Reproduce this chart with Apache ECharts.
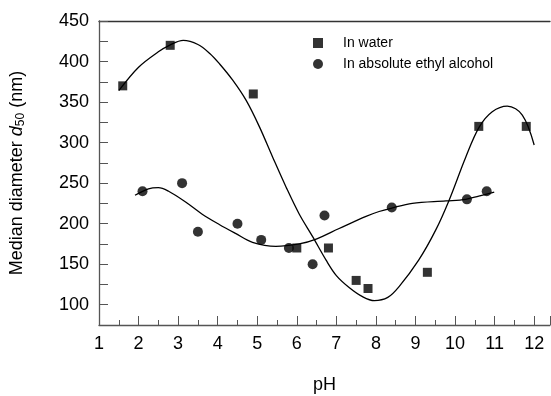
<!DOCTYPE html>
<html>
<head>
<meta charset="utf-8">
<script src="https://cdn.jsdelivr.net/npm/echarts@6/dist/echarts.min.js"></script>
<style>
  html, body { margin: 0; padding: 0; background: #fff; }
  #chart { width: 551px; height: 396px; }
</style>
</head>
<body>
<div id="chart"></div>
<script>
// measured points
const waterPH = [1.6, 2.8, 4.9, 6.0, 6.8, 7.5, 7.8, 9.3, 10.6, 11.8];
const waterD50 = [370, 420, 360, 170, 170, 130, 120, 140, 320, 320];
const ethanolPH = [2.1, 3.1, 3.5, 4.5, 5.1, 5.8, 6.4, 6.7, 8.4, 10.3, 10.8];
const ethanolD50 = [240, 250, 190, 200, 180, 170, 150, 210, 220, 230, 240];

// fitted curves
const waterFitPH = [1.5, 2.0, 2.5, 2.78, 3.13, 3.5, 3.8, 4.05, 4.38, 4.72, 5.05, 5.39, 5.73, 6.06, 6.4, 6.74, 7.0, 7.33, 7.66, 7.96, 8.3, 8.58, 9.08, 9.51, 9.85, 10.27, 10.61, 10.94, 11.32, 11.7, 12.0];
const waterFitD50 = [364, 393, 412, 420, 426, 421, 410, 397, 377, 352, 320, 282, 245, 212, 184, 155, 136, 121, 110, 105, 109, 122, 155, 192, 229, 282, 319, 338, 345, 334, 297];
const ethanolFitPH = [1.91, 2.25, 2.5, 2.76, 3.18, 3.6, 4.04, 4.45, 4.88, 5.47, 6.06, 6.49, 7.07, 7.75, 8.08, 8.38, 8.92, 9.77, 10.27, 10.6, 10.99];
const ethanolFitD50 = [235, 243, 244.5, 240, 227, 212, 199, 188, 177, 172, 175, 181, 194, 209, 215, 219, 225, 228, 230, 234, 239];

const zip = (xs, ys) => xs.map((x, i) => [x, ys[i]]);

const chart = echarts.init(document.getElementById('chart'));
const axisColor = '#555';
const font = 'Liberation Sans, Arial, sans-serif';

chart.setOption({
    animation: false,
    grid: { left: 99, top: 21, right: 1, bottom: 71, outerBoundsMode: 'none' },
    legend: {
        orient: 'vertical',
        left: 308,
        top: 31,
        itemWidth: 40,
        itemHeight: 10,
        itemGap: 7,
        symbolKeepAspect: true,
        textStyle: { fontFamily: font, fontSize: 14, color: '#000' },
        data: [
            { name: 'In water', icon: 'path://M0,0L10,0L10,10L0,10Z' },
            { name: 'In absolute ethyl alcohol', icon: 'circle' }
        ]
    },
    xAxis: [{
        type: 'value',
        min: 1,
        max: 12.4,
        interval: 1,
        name: 'pH',
        nameLocation: 'middle',
        nameGap: 51,
        nameTextStyle: { fontFamily: font, fontSize: 18, color: '#000' },
        axisLine: { onZero: false, lineStyle: { color: axisColor, width: 1.3 } },
        axisTick: { inside: true, length: 9, lineStyle: { color: axisColor } },
        minorTick: { show: true, splitNumber: 2, length: 5, lineStyle: { color: axisColor } },
        axisLabel: { showMaxLabel: false, margin: 10, fontFamily: font, fontSize: 18, color: '#000' },
        splitLine: { show: false }
    }, {
        type: 'value',
        position: 'top',
        min: 1,
        max: 12.4,
        axisLine: { show: true, lineStyle: { color: '#333', width: 1.3 } },
        axisTick: { show: false },
        axisLabel: { show: false },
        splitLine: { show: false }
    }],
    yAxis: {
        type: 'value',
        min: 75,
        max: 450,
        interval: 25,
        name: 'Median diameter {i|d}{sub|50} (nm)',
        nameLocation: 'middle',
        nameGap: 72,
        nameTextStyle: {
            fontFamily: font, fontSize: 18, color: '#000',
            rich: {
                i: { fontFamily: font, fontSize: 18, fontStyle: 'italic', color: '#000' },
                sub: { fontFamily: font, fontSize: 12, color: '#000', verticalAlign: 'bottom', padding: [8, 0, 0, 0] }
            }
        },
        axisLine: { show: true, onZero: false, lineStyle: { color: axisColor, width: 1.3 } },
        axisTick: { inside: true, length: 9, lineStyle: { color: axisColor } },
        axisLabel: {
            margin: 10,
            fontFamily: font, fontSize: 18, color: '#000',
            formatter: v => (v >= 100 && v % 50 === 0) ? String(v) : ''
        },
        splitLine: { show: false }
    },
    series: [{
        name: 'water fit',
        type: 'line',
        data: zip(waterFitPH, waterFitD50),
        smooth: 0.35,
        showSymbol: false,
        lineStyle: { color: '#000', width: 1.3 },
        z: 1
    }, {
        name: 'ethanol fit',
        type: 'line',
        data: zip(ethanolFitPH, ethanolFitD50),
        smooth: 0.35,
        showSymbol: false,
        lineStyle: { color: '#000', width: 1.3 },
        z: 1
    }, {
        name: 'In water',
        type: 'scatter',
        data: zip(waterPH, waterD50),
        symbol: 'rect',
        symbolSize: 9,
        itemStyle: { color: '#000' },
        z: 3
    }, {
        name: 'In absolute ethyl alcohol',
        type: 'scatter',
        data: zip(ethanolPH, ethanolD50),
        symbol: 'circle',
        symbolSize: 10,
        itemStyle: { color: '#000' },
        z: 3
    }]
});
</script>
</body>
</html>
